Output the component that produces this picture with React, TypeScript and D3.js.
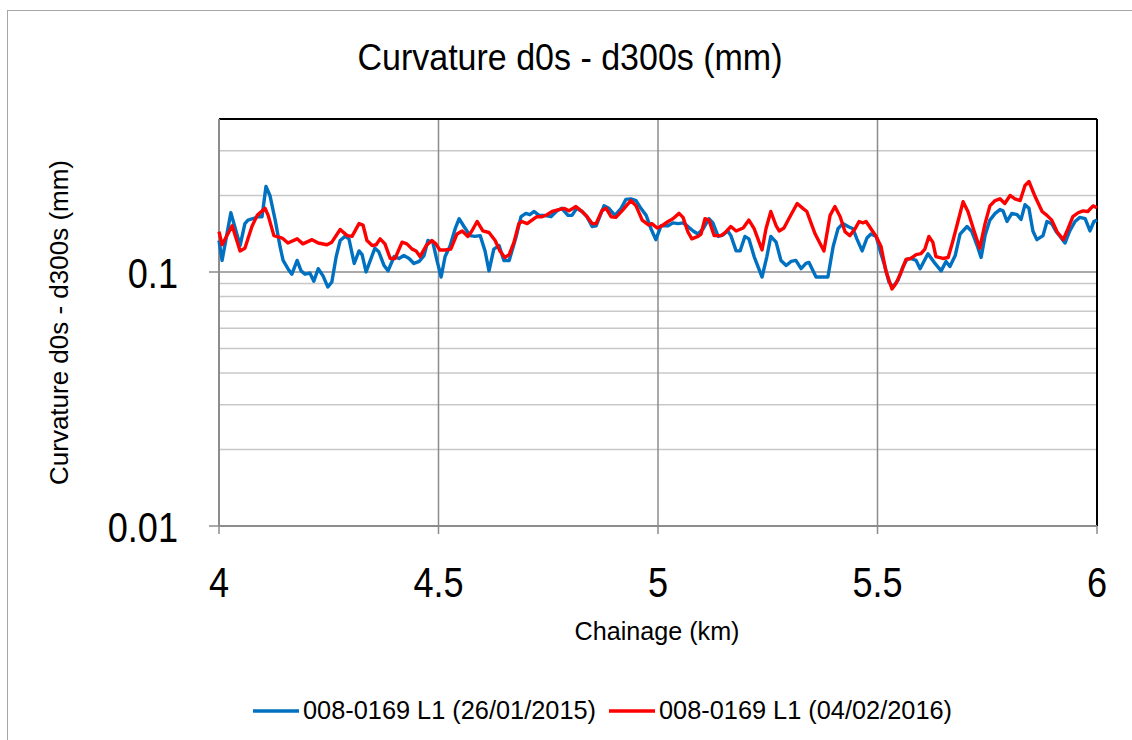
import React from "react";
import { scaleLinear, scaleLog, line } from "d3";

const xTicks = [4, 4.5, 5, 5.5, 6];
const yMajorTicks = [0.01, 0.1];
const yMinorTicks = [0.02, 0.03, 0.04, 0.05, 0.06, 0.07, 0.08, 0.09, 0.2, 0.3, 0.4];

const seriesNames = ["008-0169 L1 (26/01/2015)", "008-0169 L1 (04/02/2016)"];
const seriesColors = ["#0070C0", "#FF0000"];

// 26/01/2015 survey
const chainage2015 = [
  4.0, 4.007, 4.027, 4.048, 4.059, 4.066, 4.077, 4.089, 4.098, 4.107, 4.116, 4.128, 4.139, 4.146, 4.157, 4.166,
  4.178, 4.187, 4.196, 4.207, 4.216, 4.226, 4.237, 4.248, 4.257, 4.267, 4.276, 4.287, 4.296, 4.308, 4.319, 4.326,
  4.335, 4.355, 4.364, 4.376, 4.385, 4.399, 4.41, 4.421, 4.433, 4.444, 4.456, 4.467, 4.476, 4.487, 4.497, 4.506,
  4.515, 4.526, 4.538, 4.547, 4.558, 4.572, 4.583, 4.595, 4.606, 4.615, 4.626, 4.638, 4.649, 4.661, 4.677, 4.688,
  4.699, 4.708, 4.718, 4.729, 4.74, 4.756, 4.77, 4.781, 4.795, 4.804, 4.815, 4.827, 4.838, 4.85, 4.859, 4.877,
  4.888, 4.902, 4.916, 4.927, 4.938, 4.95, 4.961, 4.973, 4.984, 4.995, 5.007, 5.023, 5.034, 5.046, 5.057, 5.068,
  5.08, 5.091, 5.103, 5.116, 5.125, 5.137, 5.148, 5.159, 5.166, 5.178, 5.187, 5.198, 5.207, 5.219, 5.237, 5.248,
  5.257, 5.269, 5.28, 5.292, 5.303, 5.314, 5.326, 5.337, 5.344, 5.36, 5.371, 5.387, 5.399, 5.41, 5.421, 5.433,
  5.444, 5.453, 5.465, 5.476, 5.485, 5.497, 5.506, 5.517, 5.526, 5.535, 5.547, 5.558, 5.567, 5.576, 5.588, 5.597,
  5.615, 5.631, 5.645, 5.656, 5.665, 5.677, 5.688, 5.704, 5.715, 5.727, 5.736, 5.745, 5.756, 5.768, 5.779, 5.786,
  5.795, 5.806, 5.818, 5.827, 5.836, 5.845, 5.854, 5.863, 5.877, 5.886, 5.897, 5.907, 5.916, 5.927, 5.938, 5.95,
  5.961, 5.973, 5.984, 5.993, 6.0,
];
const curvature2015 = [
  0.133, 0.111, 0.171, 0.127, 0.155, 0.16, 0.162, 0.165, 0.165, 0.217, 0.2, 0.16, 0.126, 0.111, 0.103, 0.098,
  0.111, 0.101, 0.098, 0.099, 0.092, 0.103, 0.0965, 0.0872, 0.0913, 0.115, 0.133, 0.138, 0.135, 0.108, 0.121, 0.117,
  0.1, 0.124, 0.12, 0.106, 0.101, 0.115, 0.113, 0.116, 0.113, 0.108, 0.11, 0.116, 0.133, 0.131, 0.11, 0.0955,
  0.115, 0.126, 0.148, 0.162, 0.151, 0.139, 0.138, 0.139, 0.121, 0.101, 0.123, 0.127, 0.111, 0.111, 0.138, 0.165,
  0.17, 0.168, 0.173, 0.167, 0.167, 0.165, 0.174, 0.178, 0.167, 0.167, 0.178, 0.173, 0.165, 0.151, 0.152, 0.182,
  0.178, 0.167, 0.178, 0.193, 0.194, 0.191, 0.178, 0.167, 0.148, 0.134, 0.152, 0.152, 0.156, 0.155, 0.156, 0.151,
  0.145, 0.141, 0.148, 0.162, 0.156, 0.138, 0.14, 0.145, 0.139, 0.121, 0.121, 0.138, 0.135, 0.115, 0.0955, 0.115,
  0.138, 0.131, 0.111, 0.106, 0.11, 0.111, 0.103, 0.108, 0.109, 0.0955, 0.0955, 0.0955, 0.126, 0.148, 0.155, 0.151,
  0.148, 0.135, 0.121, 0.136, 0.141, 0.138, 0.121, 0.105, 0.0913, 0.0872, 0.093, 0.105, 0.112, 0.113, 0.111, 0.103,
  0.118, 0.108, 0.101, 0.11, 0.105, 0.116, 0.141, 0.151, 0.144, 0.127, 0.114, 0.139, 0.16, 0.17, 0.176, 0.174,
  0.158, 0.17, 0.168, 0.161, 0.184, 0.178, 0.145, 0.134, 0.139, 0.158, 0.155, 0.144, 0.138, 0.13, 0.145, 0.158,
  0.164, 0.162, 0.145, 0.158, 0.16,
];

// 04/02/2016 survey
const chainage2016 = [
  4.0, 4.007, 4.03, 4.048, 4.059, 4.075, 4.087, 4.105, 4.112, 4.125, 4.144, 4.157, 4.178, 4.191, 4.212, 4.226,
  4.246, 4.257, 4.276, 4.292, 4.303, 4.319, 4.328, 4.337, 4.349, 4.358, 4.367, 4.378, 4.39, 4.401, 4.417, 4.428,
  4.44, 4.449, 4.458, 4.472, 4.485, 4.494, 4.503, 4.515, 4.528, 4.542, 4.554, 4.567, 4.576, 4.588, 4.601, 4.615,
  4.629, 4.64, 4.651, 4.661, 4.672, 4.683, 4.69, 4.702, 4.713, 4.724, 4.736, 4.747, 4.759, 4.774, 4.786, 4.797,
  4.813, 4.825, 4.836, 4.85, 4.859, 4.872, 4.882, 4.893, 4.904, 4.918, 4.938, 4.95, 4.964, 4.979, 4.986, 4.998,
  5.009, 5.023, 5.034, 5.048, 5.057, 5.068, 5.077, 5.091, 5.098, 5.107, 5.116, 5.128, 5.144, 5.155, 5.166, 5.178,
  5.194, 5.207, 5.219, 5.237, 5.246, 5.257, 5.269, 5.276, 5.287, 5.298, 5.317, 5.33, 5.339, 5.358, 5.378, 5.392,
  5.403, 5.415, 5.426, 5.437, 5.449, 5.458, 5.467, 5.474, 5.485, 5.497, 5.508, 5.519, 5.533, 5.542, 5.554, 5.565,
  5.576, 5.588, 5.599, 5.608, 5.617, 5.626, 5.633, 5.649, 5.661, 5.672, 5.695, 5.706, 5.72, 5.733, 5.745, 5.756,
  5.768, 5.779, 5.79, 5.802, 5.813, 5.825, 5.836, 5.845, 5.859, 5.875, 5.886, 5.897, 5.909, 5.923, 5.934, 5.945,
  5.957, 5.968, 5.979, 5.991, 6.0,
];
const curvature2016 = [
  0.144, 0.128, 0.152, 0.121, 0.124, 0.151, 0.167, 0.178, 0.167, 0.139, 0.136, 0.13, 0.135, 0.129, 0.134, 0.13,
  0.128, 0.131, 0.147, 0.139, 0.138, 0.155, 0.153, 0.133, 0.127, 0.128, 0.135, 0.129, 0.113, 0.113, 0.131, 0.129,
  0.123, 0.121, 0.115, 0.127, 0.133, 0.129, 0.122, 0.122, 0.123, 0.141, 0.145, 0.138, 0.145, 0.158, 0.145, 0.143,
  0.133, 0.121, 0.114, 0.117, 0.131, 0.155, 0.158, 0.155, 0.16, 0.165, 0.165, 0.168, 0.173, 0.176, 0.178, 0.174,
  0.181, 0.174, 0.167, 0.155, 0.155, 0.174, 0.178, 0.165, 0.164, 0.174, 0.191, 0.182, 0.16, 0.153, 0.155, 0.149,
  0.152, 0.158, 0.162, 0.17, 0.164, 0.144, 0.135, 0.138, 0.141, 0.162, 0.16, 0.139, 0.139, 0.144, 0.151, 0.145,
  0.149, 0.16, 0.148, 0.122, 0.148, 0.173, 0.152, 0.145, 0.149, 0.162, 0.186, 0.178, 0.173, 0.141, 0.121, 0.167,
  0.181, 0.165, 0.144, 0.139, 0.148, 0.158, 0.156, 0.158, 0.148, 0.138, 0.126, 0.101, 0.0857, 0.09, 0.1, 0.112,
  0.113, 0.117, 0.118, 0.123, 0.138, 0.131, 0.115, 0.113, 0.114, 0.133, 0.189, 0.173, 0.145, 0.124, 0.155, 0.182,
  0.191, 0.194, 0.186, 0.2, 0.194, 0.191, 0.219, 0.227, 0.198, 0.173, 0.167, 0.16, 0.144, 0.134, 0.148, 0.165,
  0.171, 0.174, 0.173, 0.182, 0.179,
];

const series = [
  { name: seriesNames[0], color: seriesColors[0], xs: chainage2015, ys: curvature2015 },
  { name: seriesNames[1], color: seriesColors[1], xs: chainage2016, ys: curvature2016 },
];

const W = 1132;
const H = 740;
const margin = { left: 219, right: 1097, top: 119, bottom: 526 };
const font = "'Liberation Sans', Arial, sans-serif";

// approximate per-character width (em) so text can be squeezed like the narrow source font
const narrow = (s: string, size: number, k = 0.86) =>
  s.split("").reduce((a, c) => a + (/[0-9]/.test(c) ? 0.556 : /[ .\/il]/.test(c) ? 0.278 : /[m]/.test(c) ? 0.833 : /[-()r]/.test(c) ? 0.333 : /[C]/.test(c) ? 0.722 : 0.556), 0) * size * k;

const App: React.FC = () => {
  const x = scaleLinear().domain([4, 6]).range([margin.left, margin.right]);
  const y = scaleLog().domain([0.01, 0.4]).range([margin.bottom, margin.top]);

  const path = line<[number, number]>()
    .x((d) => x(d[0]))
    .y((d) => y(d[1]));

  return (
    <div style={{ width: W, height: H, position: "absolute", left: 0, top: 0 }}>
      <svg width={W} height={H} style={{ display: "block", background: "#fff" }} fontFamily={font}>
        <rect x={7.5} y={10.5} width={1130} height={740} fill="#fff" stroke="#a6a6a6" />

        <text x={570} y={70} textAnchor="middle" fontSize={36} fill="#000" textLength={425} lengthAdjust="spacingAndGlyphs">
          Curvature d0s - d300s (mm)
        </text>

        {/* minor horizontal grid */}
        {yMinorTicks.map((t) => (
          <line key={t} x1={margin.left} x2={margin.right} y1={y(t)} y2={y(t)} stroke="#c8c8c8" strokeWidth={1.5} />
        ))}
        {/* major horizontal grid */}
        {yMajorTicks.map((t) => (
          <line key={t} x1={margin.left - 10} x2={margin.right} y1={y(t)} y2={y(t)} stroke="#8c8c8c" strokeWidth={1.5} />
        ))}
        {/* vertical grid */}
        {xTicks.map((t) => (
          <line key={t} x1={x(t)} x2={x(t)} y1={margin.top} y2={margin.bottom + 8} stroke="#8c8c8c" strokeWidth={1.5} />
        ))}

        {/* frame */}
        <line x1={margin.left} x2={margin.right} y1={margin.top} y2={margin.top} stroke="#000" strokeWidth={2} />
        <line x1={margin.right} x2={margin.right} y1={margin.top} y2={margin.bottom} stroke="#000" strokeWidth={2} />
        <line x1={margin.left} x2={margin.left} y1={margin.top} y2={margin.bottom} stroke="#8c8c8c" strokeWidth={2} />
        <line x1={margin.left} x2={margin.right} y1={margin.bottom} y2={margin.bottom} stroke="#8c8c8c" strokeWidth={2} />

        {series.map((s) => (
          <path
            key={s.name}
            d={path(s.xs.map((v, i) => [v, s.ys[i]] as [number, number])) || ""}
            fill="none"
            stroke={s.color}
            strokeWidth={3.4}
            strokeLinejoin="round"
          />
        ))}

        {yMajorTicks.map((t) => (
          <text
            key={t}
            x={178}
            y={y(t) + 16}
            textAnchor="end"
            fontSize={43}
            fill="#000"
            textLength={narrow(String(t), 43, 0.84)}
            lengthAdjust="spacingAndGlyphs"
          >
            {t}
          </text>
        ))}
        {xTicks.map((t) => (
          <text
            key={t}
            x={x(t)}
            y={597}
            textAnchor="middle"
            fontSize={43}
            fill="#000"
            textLength={narrow(String(t), 43, 0.84)}
            lengthAdjust="spacingAndGlyphs"
          >
            {t}
          </text>
        ))}

        <text x={657} y={640} textAnchor="middle" fontSize={25} fill="#000" textLength={165} lengthAdjust="spacingAndGlyphs">
          Chainage (km)
        </text>
        <text
          transform={`translate(68,${(margin.top + margin.bottom) / 2}) rotate(-90)`}
          textAnchor="middle"
          fontSize={25}
          fill="#000"
          textLength={325}
          lengthAdjust="spacingAndGlyphs"
        >
          Curvature d0s - d300s (mm)
        </text>

        {/* legend */}
        <line x1={253} x2={299} y1={711} y2={711} stroke={seriesColors[0]} strokeWidth={3.5} />
        <text x={303} y={719} fontSize={25} fill="#000" textLength={293} lengthAdjust="spacingAndGlyphs">
          {seriesNames[0]}
        </text>
        <line x1={609} x2={655} y1={711} y2={711} stroke={seriesColors[1]} strokeWidth={3.5} />
        <text x={659} y={719} fontSize={25} fill="#000" textLength={293} lengthAdjust="spacingAndGlyphs">
          {seriesNames[1]}
        </text>
      </svg>
    </div>
  );
};

export default App;
